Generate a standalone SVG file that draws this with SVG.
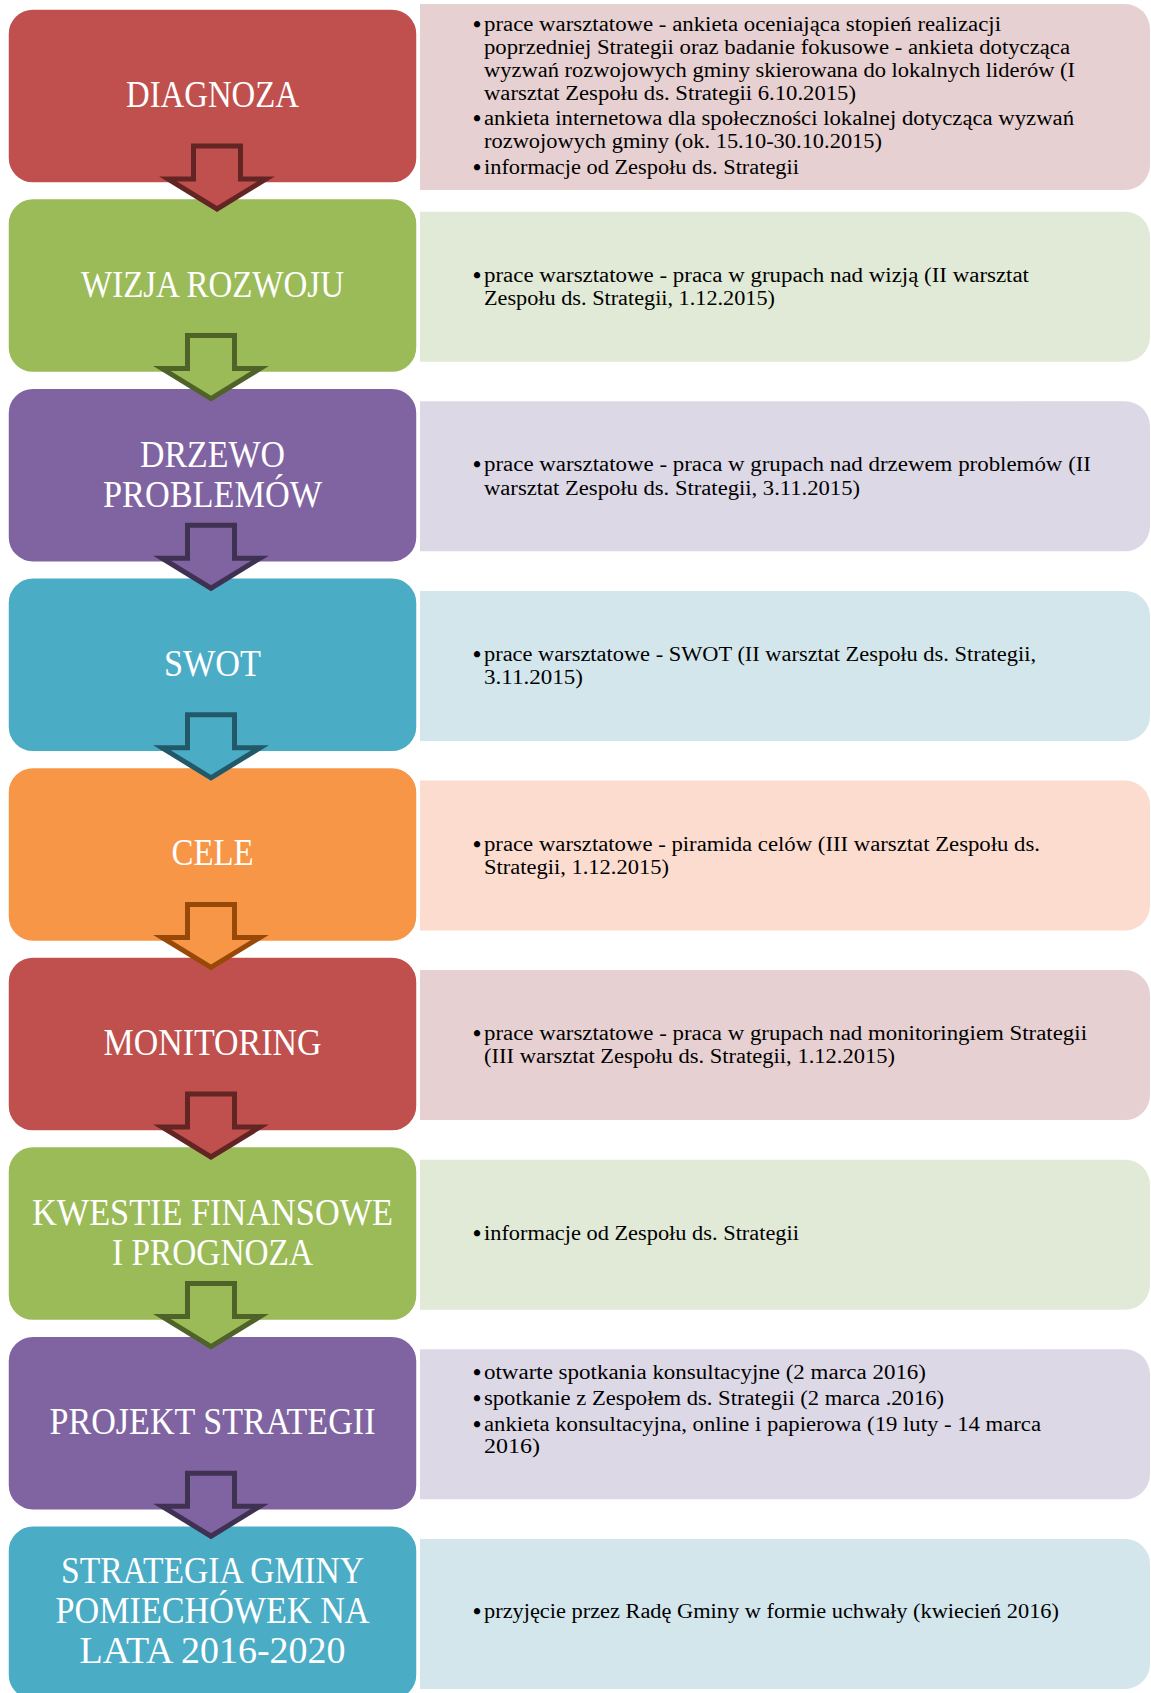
<svg xmlns="http://www.w3.org/2000/svg" width="1151" height="1693" viewBox="0 0 1151 1693">
<style>
.lb{stroke:#ffffff;stroke-width:1.5}
.lt{font-family:"Liberation Serif","Times New Roman",serif;font-size:37px;fill:#ffffff;text-anchor:middle}
.rt{font-family:"Liberation Serif","Times New Roman",serif;font-size:20px;fill:#000000}
.bu{font-family:"Liberation Serif","Times New Roman",serif;font-size:23px;font-weight:bold;fill:#000000}
.ar{stroke-width:5;stroke-linejoin:miter;stroke-miterlimit:10}
.red{fill:#c0504d}.grn{fill:#9bbb59}.pur{fill:#8064a2}.blu{fill:#4bacc6}.org{fill:#f79646}
.rred{fill:#e7d0d1}.rgrn{fill:#e1e9d7}.rpur{fill:#ddd8e6}.rblu{fill:#d3e6ec}.rorg{fill:#fbdccf}
</style>
<rect width="1151" height="1693" fill="#ffffff"/>

<g id="node-diagnoza">
<rect class="lb red" x="8" y="9" width="409" height="174" rx="25"/>
<text class="lt" x="212.5" y="107" textLength="173" lengthAdjust="spacingAndGlyphs">DIAGNOZA</text>
<path class="rred" d="M420,4 H1125 A25,25 0 0 1 1150,29 V165 A25,25 0 0 1 1125,190 H420 Z"/>
<text class="bu" x="473" y="32">•</text>
<text class="rt" x="484" y="31" textLength="517" lengthAdjust="spacingAndGlyphs">prace warsztatowe - ankieta oceniająca stopień realizacji</text>
<text class="rt" x="484" y="54" textLength="586" lengthAdjust="spacingAndGlyphs">poprzedniej Strategii oraz badanie fokusowe - ankieta dotycząca</text>
<text class="rt" x="484" y="77" textLength="591" lengthAdjust="spacingAndGlyphs">wyzwań rozwojowych gminy skierowana do lokalnych liderów (I</text>
<text class="rt" x="484" y="99.5" textLength="372" lengthAdjust="spacingAndGlyphs">warsztat Zespołu ds. Strategii 6.10.2015)</text>
<text class="bu" x="473" y="126">•</text>
<text class="rt" x="484" y="125" textLength="590" lengthAdjust="spacingAndGlyphs">ankieta internetowa dla społeczności lokalnej dotycząca wyzwań</text>
<text class="rt" x="484" y="148" textLength="398" lengthAdjust="spacingAndGlyphs">rozwojowych gminy (ok. 15.10-30.10.2015)</text>
<text class="bu" x="473" y="175">•</text>
<text class="rt" x="484" y="174" textLength="315" lengthAdjust="spacingAndGlyphs">informacje od Zespołu ds. Strategii</text>
</g>

<g id="node-wizja">
<rect class="lb grn" x="8" y="198.6" width="409" height="174" rx="25"/>
<text class="lt" x="212.5" y="296.6" textLength="263" lengthAdjust="spacingAndGlyphs">WIZJA ROZWOJU</text>
<path class="rgrn" d="M420,211.7 H1125 A25,25 0 0 1 1150,236.7 V336.7 A25,25 0 0 1 1125,361.7 H420 Z"/>
<text class="bu" x="473" y="282.7">•</text>
<text class="rt" x="484" y="281.7" textLength="545" lengthAdjust="spacingAndGlyphs">prace warsztatowe - praca w grupach nad wizją (II warsztat</text>
<text class="rt" x="484" y="305" textLength="291" lengthAdjust="spacingAndGlyphs">Zespołu ds. Strategii, 1.12.2015)</text>
</g>

<g id="node-drzewo">
<rect class="lb pur" x="8" y="388.2" width="409" height="174" rx="25"/>
<text class="lt" x="212.5" y="466.7" textLength="145" lengthAdjust="spacingAndGlyphs">DRZEWO</text>
<text class="lt" x="212.5" y="506.7" textLength="219" lengthAdjust="spacingAndGlyphs">PROBLEMÓW</text>
<path class="rpur" d="M420,401.3 H1125 A25,25 0 0 1 1150,426.3 V526.3 A25,25 0 0 1 1125,551.3 H420 Z"/>
<text class="bu" x="473" y="472.3">•</text>
<text class="rt" x="484" y="471.3" textLength="607" lengthAdjust="spacingAndGlyphs">prace warsztatowe - praca w grupach nad drzewem problemów (II</text>
<text class="rt" x="484" y="494.6" textLength="376" lengthAdjust="spacingAndGlyphs">warsztat Zespołu ds. Strategii, 3.11.2015)</text>
</g>

<g id="node-swot">
<rect class="lb blu" x="8" y="577.8" width="409" height="174" rx="25"/>
<text class="lt" x="212.5" y="676" textLength="97" lengthAdjust="spacingAndGlyphs">SWOT</text>
<path class="rblu" d="M420,590.9 H1125 A25,25 0 0 1 1150,615.9 V715.9 A25,25 0 0 1 1125,740.9 H420 Z"/>
<text class="bu" x="473" y="661.9">•</text>
<text class="rt" x="484" y="660.9" textLength="552" lengthAdjust="spacingAndGlyphs">prace warsztatowe - SWOT (II warsztat Zespołu ds. Strategii,</text>
<text class="rt" x="484" y="684.2" textLength="99" lengthAdjust="spacingAndGlyphs">3.11.2015)</text>
</g>

<g id="node-cele">
<rect class="lb org" x="8" y="767.4" width="409" height="174" rx="25"/>
<text class="lt" x="212.5" y="865.4" textLength="82" lengthAdjust="spacingAndGlyphs">CELE</text>
<path class="rorg" d="M420,780.5 H1125 A25,25 0 0 1 1150,805.5 V905.5 A25,25 0 0 1 1125,930.5 H420 Z"/>
<text class="bu" x="473" y="851.5">•</text>
<text class="rt" x="484" y="850.5" textLength="556" lengthAdjust="spacingAndGlyphs">prace warsztatowe - piramida celów (III warsztat Zespołu ds.</text>
<text class="rt" x="484" y="873.8" textLength="185" lengthAdjust="spacingAndGlyphs">Strategii, 1.12.2015)</text>
</g>

<g id="node-monitoring">
<rect class="lb red" x="8" y="957" width="409" height="174" rx="25"/>
<text class="lt" x="212.5" y="1055" textLength="218" lengthAdjust="spacingAndGlyphs">MONITORING</text>
<path class="rred" d="M420,970.1 H1125 A25,25 0 0 1 1150,995.1 V1095.1 A25,25 0 0 1 1125,1120.1 H420 Z"/>
<text class="bu" x="473" y="1040.5">•</text>
<text class="rt" x="484" y="1039.5" textLength="603" lengthAdjust="spacingAndGlyphs">prace warsztatowe - praca w grupach nad monitoringiem Strategii</text>
<text class="rt" x="484" y="1062.8" textLength="411" lengthAdjust="spacingAndGlyphs">(III warsztat Zespołu ds. Strategii, 1.12.2015)</text>
</g>

<g id="node-kwestie">
<rect class="lb grn" x="8" y="1146.6" width="409" height="174" rx="25"/>
<text class="lt" x="212.5" y="1225" textLength="361" lengthAdjust="spacingAndGlyphs">KWESTIE FINANSOWE</text>
<text class="lt" x="212.5" y="1265" textLength="201" lengthAdjust="spacingAndGlyphs">I PROGNOZA</text>
<path class="rgrn" d="M420,1159.7 H1125 A25,25 0 0 1 1150,1184.7 V1284.7 A25,25 0 0 1 1125,1309.7 H420 Z"/>
<text class="bu" x="473" y="1241">•</text>
<text class="rt" x="484" y="1240" textLength="315" lengthAdjust="spacingAndGlyphs">informacje od Zespołu ds. Strategii</text>
</g>

<g id="node-projekt">
<rect class="lb pur" x="8" y="1336.2" width="409" height="174" rx="25"/>
<text class="lt" x="212.5" y="1434.2" textLength="326" lengthAdjust="spacingAndGlyphs">PROJEKT STRATEGII</text>
<path class="rpur" d="M420,1349.3 H1125 A25,25 0 0 1 1150,1374.3 V1474.3 A25,25 0 0 1 1125,1499.3 H420 Z"/>
<text class="bu" x="473" y="1379.7">•</text>
<text class="rt" x="484" y="1378.7" textLength="442" lengthAdjust="spacingAndGlyphs">otwarte spotkania konsultacyjne (2 marca 2016)</text>
<text class="bu" x="473" y="1405.6">•</text>
<text class="rt" x="484" y="1404.6" textLength="460" lengthAdjust="spacingAndGlyphs">spotkanie z Zespołem ds. Strategii (2 marca .2016)</text>
<text class="bu" x="473" y="1431.5">•</text>
<text class="rt" x="484" y="1430.5" textLength="557" lengthAdjust="spacingAndGlyphs">ankieta konsultacyjna, online i papierowa (19 luty - 14 marca</text>
<text class="rt" x="484" y="1453.2" textLength="56" lengthAdjust="spacingAndGlyphs">2016)</text>
</g>

<g id="node-strategia">
<rect class="lb blu" x="8" y="1525.8" width="409" height="174" rx="25"/>
<text class="lt" x="212.5" y="1583.3" textLength="303" lengthAdjust="spacingAndGlyphs">STRATEGIA GMINY</text>
<text class="lt" x="212.5" y="1623.3" textLength="314" lengthAdjust="spacingAndGlyphs">POMIECHÓWEK NA</text>
<text class="lt" x="212.5" y="1662.7" textLength="266" lengthAdjust="spacingAndGlyphs">LATA 2016-2020</text>
<path class="rblu" d="M420,1538.9 H1125 A25,25 0 0 1 1150,1563.9 V1663.9 A25,25 0 0 1 1125,1688.9 H420 Z"/>
<text class="bu" x="473" y="1619.4">•</text>
<text class="rt" x="484" y="1618.4" textLength="575" lengthAdjust="spacingAndGlyphs">przyjęcie przez Radę Gminy w formie uchwały (kwiecień 2016)</text>
</g>

<g id="connectors">
<path class="ar red" stroke="#632523" d="M193.5,146 H240.5 V179 H266 L217,209 L168,179 H193.5 Z"/>
<path class="ar grn" stroke="#4f6228" d="M187.5,335.6 H234.5 V368.6 H260 L211,398.6 L162,368.6 H187.5 Z"/>
<path class="ar pur" stroke="#3f3151" d="M187.5,525.2 H234.5 V558.2 H260 L211,588.2 L162,558.2 H187.5 Z"/>
<path class="ar blu" stroke="#215968" d="M187.5,714.8 H234.5 V747.8 H260 L211,777.8 L162,747.8 H187.5 Z"/>
<path class="ar org" stroke="#984807" d="M187.5,904.4 H234.5 V937.4 H260 L211,967.4 L162,937.4 H187.5 Z"/>
<path class="ar red" stroke="#632523" d="M187.5,1094 H234.5 V1127 H260 L211,1157 L162,1127 H187.5 Z"/>
<path class="ar grn" stroke="#4f6228" d="M187.5,1283.6 H234.5 V1316.6 H260 L211,1346.6 L162,1316.6 H187.5 Z"/>
<path class="ar pur" stroke="#3f3151" d="M187.5,1473.2 H234.5 V1506.2 H260 L211,1536.2 L162,1506.2 H187.5 Z"/>
</g>
</svg>
